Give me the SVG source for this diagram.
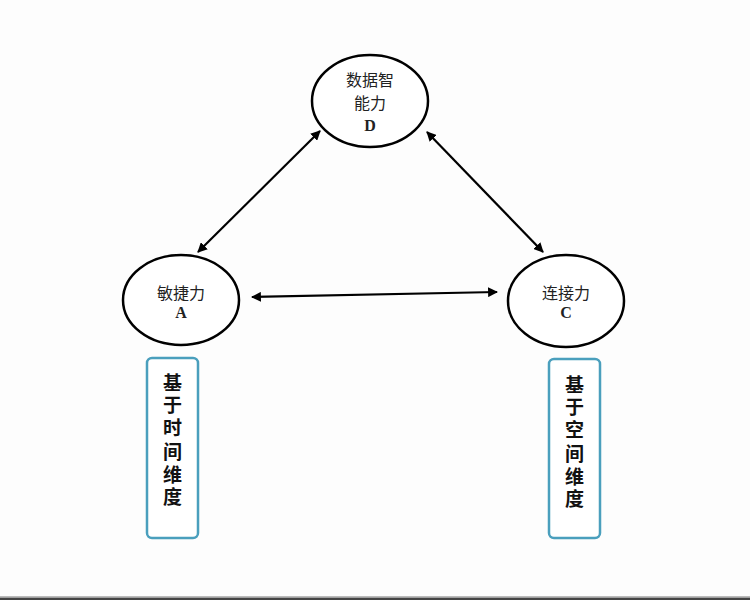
<svg xmlns="http://www.w3.org/2000/svg" width="750" height="600" viewBox="0 0 750 600">
<style>
.node ellipse{fill:#fff;stroke:#000;stroke-width:2.5}
.cn{font-family:"Noto Sans CJK SC","Noto Sans",sans-serif;font-size:16px;fill:#222;text-anchor:middle}
.lt{font-family:"Liberation Serif",serif;font-size:16px;font-weight:bold;fill:#222;text-anchor:middle}
.box rect{fill:#fff;stroke:#4a9fbd;stroke-width:2.5}
.vt{font-family:"Noto Sans CJK SC",sans-serif;font-size:19px;font-weight:bold;fill:#111;text-anchor:middle}
.conn line{stroke:#000;stroke-width:2.2}
</style>
<defs>
<marker id="ah" viewBox="0 0 10 10" refX="9" refY="5" markerWidth="4.5" markerHeight="4.5" orient="auto-start-reverse" markerUnits="strokeWidth">
<path d="M0,0 L10,5 L0,10 Z" fill="#000"/>
</marker>
</defs>
<rect x="0" y="0" width="750" height="600" fill="#fdfdfd"/>
<rect x="0" y="596" width="750" height="1" fill="#bbb"/>
<rect x="0" y="597.5" width="750" height="2.5" fill="#444"/>
<g id="connectors" class="conn">
<line x1="198" y1="252" x2="320" y2="131" marker-start="url(#ah)" marker-end="url(#ah)"/>
<line x1="427" y1="132" x2="543" y2="252" marker-start="url(#ah)" marker-end="url(#ah)"/>
<line x1="252" y1="297" x2="497" y2="292" marker-start="url(#ah)" marker-end="url(#ah)"/>
</g>
<g id="nodeD" class="node">
<ellipse cx="370" cy="101" rx="58" ry="46"/>
<text class="cn" x="370" y="86">数据智</text>
<text class="cn" x="370" y="109">能力</text>
<text class="lt" x="370" y="131">D</text>
</g>
<g id="nodeA" class="node">
<ellipse cx="181" cy="300" rx="58" ry="45"/>
<text class="cn" x="181" y="299">敏捷力</text>
<text class="lt" x="181" y="318">A</text>
</g>
<g id="nodeC" class="node">
<ellipse cx="566" cy="301" rx="58" ry="46"/>
<text class="cn" x="566" y="299">连接力</text>
<text class="lt" x="566" y="318">C</text>
</g>
<g id="boxTime" class="box">
<rect x="147" y="358" width="51" height="180" rx="5"/>
<text class="vt" x="172.5" y="390">基</text>
<text class="vt" x="172.5" y="412">于</text>
<text class="vt" x="172.5" y="435">时</text>
<text class="vt" x="172.5" y="459">间</text>
<text class="vt" x="172.5" y="482">维</text>
<text class="vt" x="172.5" y="504">度</text>
</g>
<g id="boxSpace" class="box">
<rect x="549" y="359" width="51" height="179" rx="5"/>
<text class="vt" x="574.5" y="392">基</text>
<text class="vt" x="574.5" y="414">于</text>
<text class="vt" x="574.5" y="437">空</text>
<text class="vt" x="574.5" y="461">间</text>
<text class="vt" x="574.5" y="484">维</text>
<text class="vt" x="574.5" y="506">度</text>
</g>
</svg>
